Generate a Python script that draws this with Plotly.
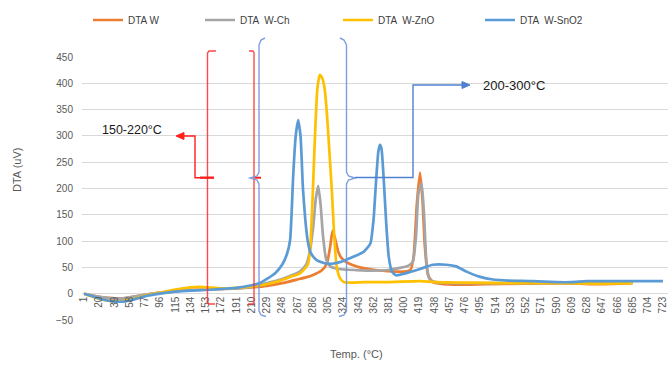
import plotly.graph_objects as go

# ---------------- data ----------------
temp_w = [1, 10, 20, 30, 39, 50, 58, 77, 96, 115, 134, 153, 172, 191, 210, 229, 248, 267, 280, 290,
          298, 304, 308, 311, 314, 318, 322, 328, 335, 345, 360, 380, 400, 408, 412, 416, 420, 423,
          426, 430, 436, 445, 470, 500, 550, 600, 640, 685]
dta_w = [0, -3, -6, -8, -9, -9, -7, -2, 2, 5, 7, 8, 9, 10, 12, 15, 20, 27, 32, 38,
         45, 58, 90, 120, 105, 80, 68, 60, 55, 50, 46, 43, 42, 45, 70, 170, 230, 180,
         90, 35, 22, 19, 17, 18, 19, 20, 18, 20]

temp_ch = [1, 10, 20, 30, 39, 50, 58, 77, 96, 115, 134, 153, 172, 191, 210, 229, 248, 260, 270, 278,
           283, 287, 290, 293, 296, 299, 303, 308, 315, 325, 340, 360, 380, 395, 405, 411, 415, 418,
           422, 425, 428, 432, 440, 460, 500, 600, 685]
dta_ch = [0, -3, -6, -8, -9, -9, -7, -2, 2, 5, 7, 8, 9, 10, 13, 20, 28, 35, 42, 55,
          84, 130, 180, 205, 170, 110, 65, 52, 48, 46, 45, 44, 45, 49, 53, 61, 110, 190,
          210, 150, 60, 27, 22, 20, 20, 20, 21]

temp_zno = [1, 10, 20, 30, 39, 50, 58, 77, 96, 115, 134, 145, 153, 165, 172, 191, 210, 229, 248, 260,
            270, 280, 283, 286, 289, 292, 295, 298, 301, 304, 307, 310, 313, 316, 320, 325, 335, 350,
            380, 420, 440, 480, 520, 560, 600, 640, 685]
dta_zno = [0, -5, -10, -13, -15, -14, -12, -4, 2, 8, 12, 13, 12, 11, 10, 11, 14, 18, 26, 33,
           38, 55, 85, 180, 300, 390, 416, 410, 390, 340, 270, 197, 110, 52, 30, 22, 21, 22,
           22, 24, 22, 21, 20, 20, 20, 19, 20]

temp_sno2 = [1, 10, 20, 30, 39, 50, 58, 77, 96, 115, 134, 153, 172, 191, 210, 220, 229, 240, 248, 254,
             258, 262, 265, 268, 271, 274, 277, 280, 283, 287, 292, 299, 305, 310, 320, 330, 340, 350,
             358, 362, 365, 368, 370, 372, 375, 378, 381, 385, 390, 395, 405, 420, 436, 453, 465, 478,
             495, 511, 530, 560, 590, 609, 628, 660, 700, 723]
dta_sno2 = [0, -4, -9, -13, -15, -15, -13, -5, 0, 4, 6, 7, 9, 11, 16, 20, 28, 40, 55, 75,
            102, 229, 300, 330, 300, 200, 140, 100, 80, 70, 63, 59, 57, 57, 60, 66, 72, 80,
            95, 140, 210, 270, 283, 275, 210, 130, 70, 42, 35, 36, 40, 47, 55, 55, 52, 42,
            32, 27, 25, 24, 22, 22, 24, 24, 24, 24]

tick_vals = [1, 20, 39, 58, 77, 96, 115, 134, 153, 172, 191, 210, 229, 248, 267, 286, 305, 324, 343,
             362, 381, 400, 419, 438, 457, 476, 495, 514, 533, 552, 571, 590, 609, 628, 647, 666,
             685, 704, 723]

series_names = ["DTA W", "DTA  W-Ch", "DTA  W-ZnO", "DTA  W-SnO2"]
series_colors = ["#ED7D31", "#A5A5A5", "#FFC000", "#5B9BD5"]

# ---------------- layout geometry (pixels) ----------------
W, H = 671, 367
L, R, T, B = 82, 668, 57, 320


def px(x):
    return (x - L) / (R - L)


def py(y):
    return (B - y) / (B - T)


FONT = "Liberation Sans"

fig = go.Figure()
series = [(temp_w, dta_w), (temp_ch, dta_ch), (temp_zno, dta_zno), (temp_sno2, dta_sno2)]
legend_ids = ["legend", "legend2", "legend3", "legend4"]
for (xs, ys), name, col, lg in zip(series, series_names, series_colors, legend_ids):
    fig.add_trace(go.Scatter(x=xs, y=ys, mode="lines", name=name, legend=lg,
                             line=dict(color=col, width=2.7, shape="spline", smoothing=0.5)))

# ---------------- annotation shapes (brackets / braces / connectors) ----------------
shapes = []
red = "rgba(255,40,40,0.85)"
blue_b = "rgba(110,150,220,0.9)"
blue_c = "#4F81D0"


def path(pts, color, width):
    d = "M " + " L ".join(f"{px(a):.5f},{py(b):.5f}" for a, b in pts)
    return dict(type="path", xref="paper", yref="paper", path=d,
                line=dict(color=color, width=width), layer="above")


def tri(pts, color):
    d = "M " + " L ".join(f"{px(a):.5f},{py(b):.5f}" for a, b in pts) + " Z"
    return dict(type="path", xref="paper", yref="paper", path=d, fillcolor=color,
                line=dict(color=color, width=1), layer="above")


# red "[" bracket
shapes.append(path([(216, 51), (209, 51), (207.5, 53), (207.5, 302), (209, 304), (215, 304)], red, 1.4))
# red "]" bracket
shapes.append(path([(249, 51), (253, 51), (254, 53), (254, 302), (253, 304), (248, 304)], red, 1.4))
# red mid ticks
shapes.append(path([(200, 177.7), (214, 177.7)], "#FF1E1E", 2.4))
shapes.append(path([(255, 177.7), (261, 177.7)], "#FF1E1E", 2.0))
# red connector
shapes.append(path([(200, 177.7), (195, 177.7), (195, 136), (183, 136)], "#FF1E1E", 1.4))
shapes.append(tri([(176, 136), (184, 132.5), (184, 139.5)], "#FF1E1E"))

# blue "{" brace
shapes.append(path([(265, 38), (261, 40), (259, 45), (259, 172), (257, 176), (250, 178),
                    (257, 180), (259, 184), (259, 311), (261, 315), (266, 316.5)], blue_b, 1.4))
# blue "}" brace
shapes.append(path([(340, 38), (344, 40), (346.5, 45), (346.5, 172), (348.5, 176), (355, 178),
                    (348.5, 180), (346.5, 184), (346.5, 311), (344, 315), (339, 316.5)], blue_b, 1.4))
# blue connector
shapes.append(path([(355, 177.5), (413, 177.5), (413, 85), (463, 85)], blue_c, 1.4))
shapes.append(tri([(470, 85), (462, 81.5), (462, 88.5)], blue_c))

annotations = [
    dict(text="150-220°C", x=px(100), y=py(130), xref="paper", yref="paper", xanchor="left",
         yanchor="middle", showarrow=False, font=dict(family=FONT, size=12.5, color="#1a1a1a")),
    dict(text="200-300°C", x=px(481), y=py(85), xref="paper", yref="paper", xanchor="left",
         yanchor="middle", showarrow=False, font=dict(family=FONT, size=13, color="#1a1a1a")),
    dict(text="DTA (uV)", x=px(17), y=py(170), xref="paper", yref="paper", textangle=-90,
         xanchor="center", yanchor="middle", showarrow=False,
         font=dict(family=FONT, size=11, color="#595959")),
    dict(text="Temp. (°C)", x=px(356), y=py(354), xref="paper", yref="paper",
         xanchor="center", yanchor="middle", showarrow=False,
         font=dict(family=FONT, size=11, color="#595959")),
]

legend_x = [88, 200, 338, 480]
leg_common = dict(orientation="h", yanchor="middle", xanchor="left", bgcolor="rgba(0,0,0,0)",
                  font=dict(family=FONT, size=10, color="#404040"), itemwidth=30)
legends = {}
for lg, lx in zip(legend_ids, legend_x):
    legends[lg] = dict(x=px(lx), y=py(20), **leg_common)

fig.update_layout(
    width=W, height=H,
    margin=dict(l=L, r=W - R, t=T, b=H - B, pad=0, autoexpand=False),
    paper_bgcolor="white", plot_bgcolor="white",
    showlegend=True,
    font=dict(family=FONT, size=10, color="#595959"),
    xaxis=dict(range=[-1.49, 729.2], tickmode="array", tickvals=tick_vals,
               ticktext=[str(v) for v in tick_vals], tickangle=-90,
               showgrid=False, zeroline=False, showline=False, ticks="",
               anchor="free", position=0.1, automargin=False,
               tickfont=dict(size=10, color="#595959")),
    yaxis=dict(range=[-50, 450], dtick=50, showgrid=True, gridcolor="#D9D9D9", gridwidth=1,
               zeroline=True, zerolinecolor="#D9D9D9", zerolinewidth=1, showline=False,
               automargin=False, ticks="", ticklabelstandoff=8,
               tickfont=dict(size=10, color="#595959")),
    shapes=shapes,
    annotations=annotations,
    **legends,
)

fig.write_html("out.html", config={"displayModeBar": False},
               post_script="document.body.style.margin='0';")
